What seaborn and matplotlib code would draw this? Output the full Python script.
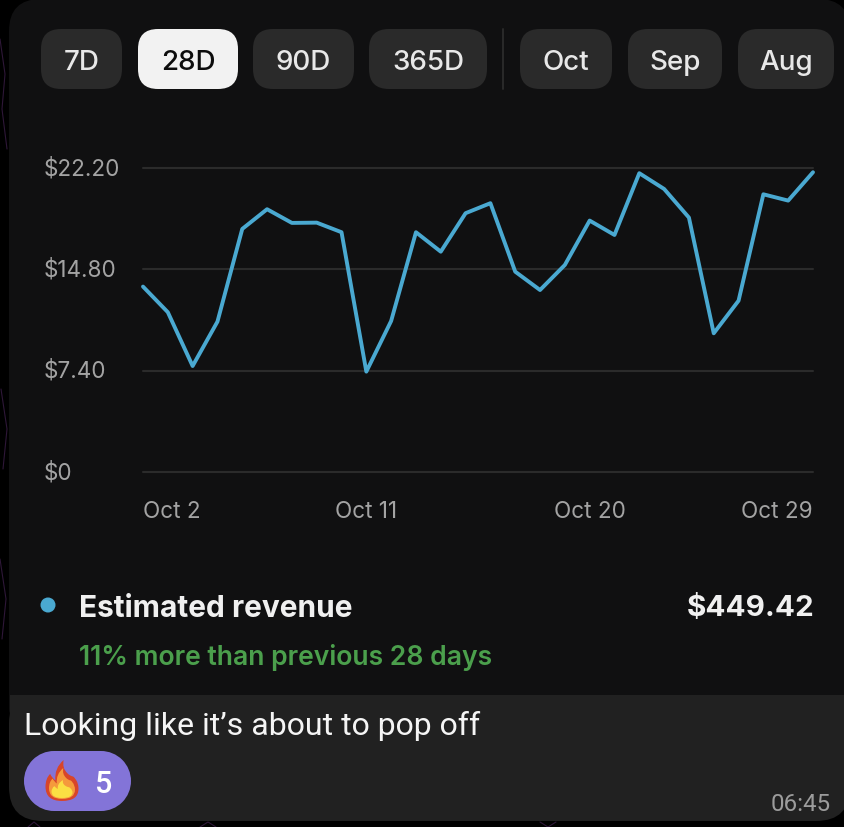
import seaborn as sns
import pandas as pd
import matplotlib.pyplot as plt
from matplotlib.patches import FancyBboxPatch, Rectangle, PathPatch, Circle
from matplotlib.path import Path

# values
days = list(range(2, 30))
revenue = [13.54, 11.67, 7.74, 10.98, 17.75, 19.19, 18.19, 18.21, 17.51, 7.33,
           11.03, 17.51, 16.09, 18.90, 19.63, 14.63, 13.29, 15.12, 18.36, 17.31,
           21.82, 20.67, 18.58, 10.13, 12.51, 20.28, 19.82, 21.89]
y_ticks = [0, 7.4, 14.8, 22.2]
y_labels = ['$0', '$7.40', '$14.80', '$22.20']
x_ticks = [2, 11, 20, 29]
x_labels = ['Oct 2', 'Oct 11', 'Oct 20', 'Oct 29']
x_aligns = ['left', 'center', 'center', 'right']
buttons = ['7D', '28D', '90D', '365D', 'Oct', 'Sep', 'Aug']
button_left = [41, 138, 253, 369, 520, 628, 738]
button_right = [122, 238, 354, 487, 612, 722, 834]

W, H = 844, 828
BLACK = '#000000'
CARD = '#101011'
BUBBLE = '#212121'
LINE = '#4aa9d1'

sns.set_theme(style='dark')
plt.rcParams['font.family'] = ['Inter', 'DejaVu Sans']

fig = plt.figure(figsize=(W / 100, H / 100), dpi=100, facecolor=BLACK)

# overlay in pixel coordinates for the card around the chart
bg = fig.add_axes([0, 0, 1, 1])
bg.set_xlim(0, W)
bg.set_ylim(H, 0)
bg.axis('off')
bg.set_facecolor(BLACK)


def rbox(ax, x0, y0, x1, y1, r, color, z=1):
    ax.add_patch(FancyBboxPatch((x0 + r, y0 + r), x1 - x0 - 2 * r, y1 - y0 - 2 * r,
                                boxstyle=f'round,pad={r},rounding_size={r}',
                                fc=color, ec='none', zorder=z))


# faint doodles of the wallpaper
for xs, ys in [([0, 5, 2, 7], [40, 75, 110, 150]), ([1, 7, 3], [390, 430, 470]),
               ([0, 6, 2], [560, 600, 640]), ([28, 34, 40], [828, 823, 828]),
               ([200, 208, 216], [828, 823, 828]), ([540, 548, 556], [823, 828, 823])]:
    bg.plot(xs, ys, color='#2e1738', lw=0.8, zorder=0)

rbox(bg, 9, 0, 850, 400, 32, CARD, z=1)
rbox(bg, 9, 300, 850, 720, 10, CARD, z=1)
rbox(bg, 9, 690, 850, 822, 34, BUBBLE, z=2)
bg.add_patch(Rectangle((10, 696), 840, 40, fc=BUBBLE, ec='none', zorder=2))
bg.add_patch(Rectangle((9, 680), 841, 16, fc=CARD, ec='none', zorder=2))

for name, x0, x1 in zip(buttons, button_left, button_right):
    active = name == '28D'
    rbox(bg, x0, 30, x1, 90, 20, '#f2f2f2' if active else '#2a2a2a', z=3)
    bg.text((x0 + x1) / 2, 60, name, ha='center', va='center_baseline', fontsize=20,
            fontweight='medium', color='#0d0d0d' if active else '#e8e8e8', zorder=4)
bg.plot([503, 503], [30, 90], color='#2a2a2a', lw=1.4, zorder=3)

bg.add_patch(Circle((48, 606), 7.5, fc=LINE, ec='none', zorder=3))
bg.text(79, 606, 'Estimated revenue', ha='left', va='center_baseline', fontsize=21.5,
        fontweight='bold', color='#f0f0f0', zorder=3)
bg.text(815, 606, '$449.42', ha='right', va='center_baseline', fontsize=21.3,
        fontweight='bold', color='#f0f0f0', zorder=3)
bg.text(79, 655, '11% more than previous 28 days', ha='left', va='center_baseline',
        fontsize=19.1, fontweight='semibold', color='#4b9f4c', zorder=3)

bg.text(24, 723, 'Looking like it’s about to pop off', ha='left', va='center_baseline',
        fontsize=23, family=['Roboto', 'DejaVu Sans'], color='#f5f5f5', zorder=3)
# reaction pill with full round ends
bg.add_patch(Rectangle((54, 752), 47, 60, fc='#8374d8', ec='none', zorder=3))
bg.add_patch(Circle((54, 782), 30, fc='#8374d8', ec='none', zorder=3))
bg.add_patch(Circle((101, 782), 30, fc='#8374d8', ec='none', zorder=3))
bg.text(104, 782, '5', ha='center', va='center_baseline', fontsize=22,
        family=['Roboto', 'DejaVu Sans'], fontweight='medium', color='white', zorder=4)
bg.text(831, 802, '06:45', ha='right', va='center_baseline', fontsize=17.4,
        family=['Roboto', 'DejaVu Sans'], color='#9c9c9c', zorder=3)


# flame of the reaction, no colour emoji font is installed
def flame(cx, bottom, w, h, color, z):
    pts = [(0.0, 0.0), (-0.5, 0.0), (-0.5, 0.35), (-0.5, 0.55), (-0.36, 0.66), (-0.3, 0.56),
           (-0.2, 0.5), (-0.24, 0.8), (0.05, 1.0), (0.0, 0.8), (0.16, 0.68), (0.22, 0.62),
           (0.32, 0.6), (0.36, 0.6), (0.4, 0.54), (0.5, 0.45), (0.5, 0.3), (0.5, 0.0), (0.0, 0.0)]
    codes = [Path.MOVETO] + [Path.CURVE3] * 18
    verts = [(cx + x * w, bottom - y * h) for x, y in pts]
    bg.add_patch(PathPatch(Path(verts, codes), fc=color, ec='none', zorder=z))


flame(62, 802, 33, 41, '#d8452a', 5)
flame(62, 800, 26, 31, '#f59a3c', 6)
flame(62, 799, 21, 18, '#fbe043', 7)

# chart
ax = fig.add_axes([143 / W, 1 - 473 / H, (813 - 143) / W, (473 - 169) / H])
ax.set_facecolor('none')
data = pd.DataFrame({'day': days, 'revenue': revenue})
sns.lineplot(data=data, x='day', y='revenue', color=LINE, linewidth=2.8, ax=ax,
             clip_on=False, zorder=5)
ax.set_xlim(2, 29)
ax.set_ylim(0, 22.2)
ax.set_xlabel('')
ax.set_ylabel('')
ax.grid(False)
for s in ax.spines.values():
    s.set_visible(False)
for v in y_ticks:
    ax.axhline(v, color='#2b2b2b', lw=1.5, zorder=1, clip_on=False)

ax.set_yticks(y_ticks, y_labels, ha='left', va='center', fontsize=16.2, color='#a3a3a3')
ax.set_xticks(x_ticks, x_labels, fontsize=16.2, color='#a3a3a3')
for lab, a in zip(ax.get_xticklabels(), x_aligns):
    lab.set_ha(a)
ax.tick_params(axis='y', length=0, pad=71.5)
ax.tick_params(axis='x', length=0, pad=20)

fig.savefig('out.png', dpi=100, facecolor=BLACK)
